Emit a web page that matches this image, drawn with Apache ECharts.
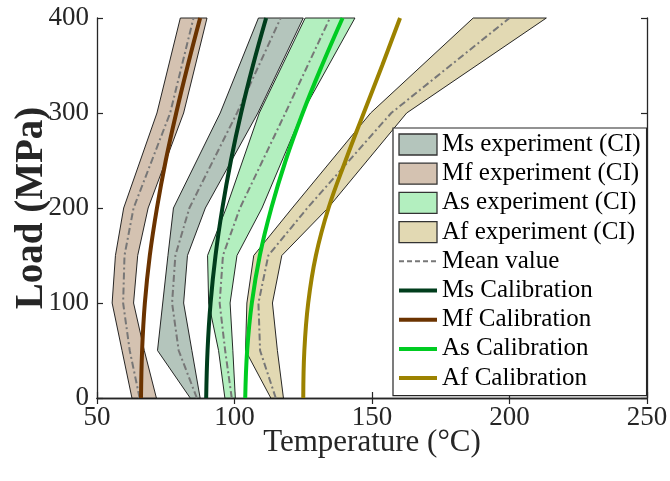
<!DOCTYPE html>
<html><head><meta charset="utf-8">
<script src="https://cdn.jsdelivr.net/npm/echarts@6/dist/echarts.min.js"></script>
<style>html,body{margin:0;padding:0;background:#fff}#c{width:670px;height:481px}</style>
</head><body><div id="c"></div>
<script>
// Experimental CI bands (vertices at these loads, MPa)
const loads = [0, 50, 100, 150, 200, 300, 400];
const msLower = [83.9, 72.0, 73.9, 75.8, 77.8, 94.8, 108.7];
const msMean  = [86.3, 79.7, 77.3, 78.5, 83.6, 100.9, 116.8];
const msUpper = [87.5, 84.5, 81.5, 82.9, 89.4, 108.5, 125.0];
const mfLower = [62.7, 59.1, 55.5, 56.7, 59.7, 71.8, 80.3];
const mfMean  = [65.5, 61.9, 59.5, 60.0, 63.3, 76.6, 85.1];
const mfUpper = [71.6, 67.2, 63.3, 64.8, 68.6, 81.5, 90.0];
const asLower = [96.5, 94.2, 90.6, 90.2, 97.0, 109.0, 125.7];
const asMean  = [99.0, 96.6, 94.6, 95.8, 102.0, 118.5, 134.7];
const asUpper = [100.3, 99.4, 98.4, 100.9, 110.0, 124.6, 143.8];
const afLower = [113.2, 104.0, 104.5, 107.0, 121.0, 149.5, 186.8];
const afMean  = [115.0, 109.3, 108.7, 112.3, 126.5, 157.0, 200.0];
const afUpper = [117.8, 115.6, 113.8, 117.2, 134.0, 162.6, 213.4];
// Calibration curves
const calLoads = [0, 50, 100, 150, 200, 250, 300, 350, 400];
const msCal = [89.7, 90.2, 91.3, 93.1, 95.6, 98.7, 102.4, 106.7, 111.5];
const mfCal = [66.0, 66.4, 67.4, 69.2, 71.8, 75.0, 78.8, 83.0, 87.5];
const asCal = [103.9, 104.6, 106.3, 109.2, 113.4, 118.6, 124.8, 131.8, 139.3];
const afCal = [125.0, 125.4, 126.8, 129.6, 134.2, 140.4, 147.0, 153.7, 160.2];
// Axis ticks
const xTicks = [50, 100, 150, 200, 250];
const yTicks = [0, 100, 200, 300, 400];

const FONT = 'Liberation Serif';
const AX = '#262626';

function band(name, lower, upper, fill) {
  return {
    type: 'custom', name: name, coordinateSystem: 'cartesian2d', z: 1,
    data: [[lower[0], loads[0]]],
    itemStyle: { color: fill, borderColor: '#1a1a1a', borderWidth: 1 },
    renderItem: function (params, api) {
      const pts = [];
      for (let i = 0; i < loads.length; i++) pts.push(api.coord([lower[i], loads[i]]));
      for (let i = loads.length - 1; i >= 0; i--) pts.push(api.coord([upper[i], loads[i]]));
      return { type: 'polygon', shape: { points: pts }, style: { fill: fill, stroke: '#111', lineWidth: 0.9 } };
    }
  };
}
const MEAN_DASH = [7, 3, 2, 3];
function meanLine(vals) {
  return {
    type: 'line', name: 'Mean value', z: 3, symbol: 'none', smooth: false,
    data: vals.map((v, i) => [v, loads[i]]),
    lineStyle: { color: '#777777', width: 2, type: MEAN_DASH },
    itemStyle: { color: '#777777' }
  };
}
function calLine(name, vals, color) {
  return {
    type: 'line', name: name, z: 4, symbol: 'none', smooth: 0.4,
    data: vals.map((v, i) => [v, calLoads[i]]),
    lineStyle: { color: color, width: 4 },
    itemStyle: { color: color }
  };
}

const C = {
  ms: '#b4c5bc', mf: '#d4c2b1', as: '#b3efbf', af: '#e2d9b3',
  msC: '#003d1c', mfC: '#6b3300', asC: '#00cc22', afC: '#9c8200'
};

const series = [
  band('Ms experiment (CI)', msLower, msUpper, C.ms),
  band('Mf experiment (CI)', mfLower, mfUpper, C.mf),
  band('As experiment (CI)', asLower, asUpper, C.as),
  band('Af experiment (CI)', afLower, afUpper, C.af),
  meanLine(msMean), meanLine(mfMean), meanLine(asMean), meanLine(afMean),
  calLine('Ms Calibration', msCal, C.msC),
  calLine('Mf Calibration', mfCal, C.mfC),
  calLine('As Calibration', asCal, C.asC),
  calLine('Af Calibration', afCal, C.afC)
];

const hide = { opacity: 0 };
const bandIcon = (col) => ({ color: col, borderColor: '#333', borderWidth: 1.3 });
const calItem = (name, col) => ({ name: name, itemStyle: hide, lineStyle: { color: col, width: 4, type: 'solid' } });

const axisCommon = {
  axisLine: { show: true, lineStyle: { color: AX, width: 1.3 } },
  axisTick: { show: true, inside: true, length: 6, lineStyle: { color: AX, width: 1.2 } },
  splitLine: { show: false }
};

const chart = echarts.init(document.getElementById('c'), null, { renderer: 'canvas' });
chart.setOption({
  animation: false,
  backgroundColor: '#fff',
  grid: { left: 97, right: 23, top: 18, bottom: 83, containLabel: false, outerBoundsMode: 'none' },
  xAxis: [
    Object.assign({
      type: 'value', position: 'bottom', min: xTicks[0], max: xTicks[xTicks.length - 1], interval: 50,
      axisLabel: { fontFamily: FONT, fontSize: 27, color: AX, margin: 6 },
      name: 'Temperature (°C)', nameLocation: 'middle', nameGap: 29, nameMoveOverlap: false,
      nameTextStyle: { fontFamily: FONT, fontSize: 31, color: AX, verticalAlign: 'top' }
    }, axisCommon),
    Object.assign({
      type: 'value', position: 'top', min: xTicks[0], max: xTicks[xTicks.length - 1], interval: 50,
      axisLabel: { show: false }
    }, axisCommon)
  ],
  yAxis: [
    Object.assign({
      type: 'value', position: 'left', min: yTicks[0], max: yTicks[yTicks.length - 1], interval: 100,
      axisLabel: { fontFamily: FONT, fontSize: 27, color: AX, margin: 8 },
      name: 'Load (MPa)', nameLocation: 'middle', nameGap: 46, nameMoveOverlap: false,
      nameTextStyle: { fontFamily: FONT, fontSize: 39, fontWeight: 'bold', color: AX }
    }, axisCommon),
    Object.assign({
      type: 'value', position: 'right', min: yTicks[0], max: yTicks[yTicks.length - 1], interval: 100,
      axisLabel: { show: false }
    }, axisCommon)
  ],
  legend: {
    orient: 'vertical', left: 393, top: 128,
    itemWidth: 38, itemHeight: 21, itemGap: 4.2,
    padding: [4, 6, 5, 4],
    backgroundColor: '#fff', borderColor: AX, borderWidth: 1.2,
    selectedMode: false,
    textStyle: { fontFamily: FONT, fontSize: 25, color: '#000' },
    data: [
      { name: 'Ms experiment (CI)', icon: 'rect', itemStyle: bandIcon(C.ms) },
      { name: 'Mf experiment (CI)', icon: 'rect', itemStyle: bandIcon(C.mf) },
      { name: 'As experiment (CI)', icon: 'rect', itemStyle: bandIcon(C.as) },
      { name: 'Af experiment (CI)', icon: 'rect', itemStyle: bandIcon(C.af) },
      { name: 'Mean value', itemStyle: hide, lineStyle: { color: '#777777', width: 2, type: [5, 3] } },
      calItem('Ms Calibration', C.msC),
      calItem('Mf Calibration', C.mfC),
      calItem('As Calibration', C.asC),
      calItem('Af Calibration', C.afC)
    ]
  },
  series: series
});
</script></body></html>
